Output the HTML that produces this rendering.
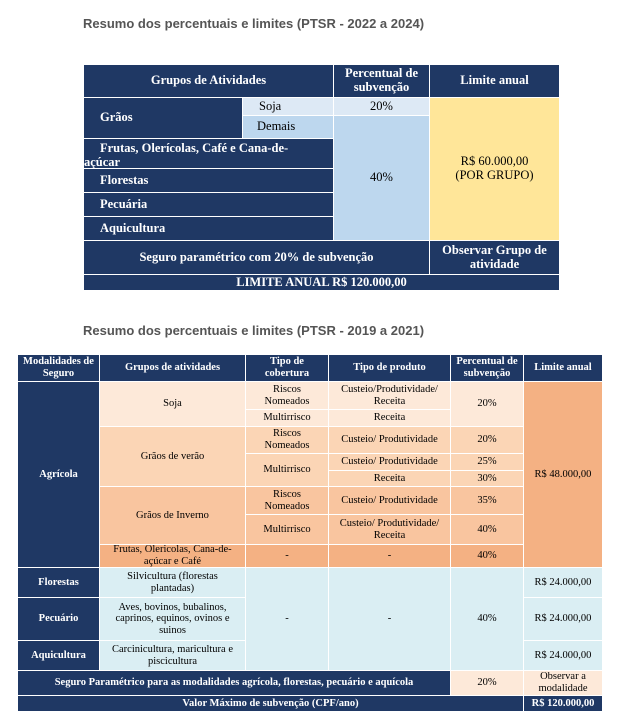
<!DOCTYPE html>
<html><head><meta charset="utf-8"><style>
body{margin:0;width:617px;height:718px;background:#fff;position:relative;overflow:hidden}
.t{position:absolute;font-family:"Liberation Sans",sans-serif;font-weight:bold;font-size:13px;color:#555}
.c{position:absolute;box-sizing:border-box;border:1px solid #fff;display:flex;align-items:center;justify-content:center;text-align:center;font-family:"Liberation Serif",serif;line-height:1.1;color:#000}
.n{background:#1f3864;color:#fff;font-weight:bold}
.a{font-size:12.5px}
.b{font-size:10.5px}
.l{justify-content:flex-start;padding-left:16px;text-align:left}
</style></head><body>
<div class="t" style="left:83px;top:16px">Resumo dos percentuais e limites (PTSR - 2022 a 2024)</div>

<div class="c n a" style="left:83px;top:64px;width:251px;height:34px">Grupos de Atividades</div>
<div class="c n a" style="left:333px;top:64px;width:97px;height:34px">Percentual de<br>subvenção</div>
<div class="c n a" style="left:429px;top:64px;width:131px;height:34px">Limite anual</div>
<div class="c n a l" style="left:83px;top:97px;width:160px;height:42px">Grãos</div>
<div class="c a" style="left:242px;top:97px;width:92px;height:19px;background:#dde9f5;justify-content:flex-start;padding-left:16px">Soja</div>
<div class="c a" style="left:242px;top:115px;width:92px;height:24px;background:#bdd7ee;justify-content:flex-start;padding-left:14px">Demais</div>
<div class="c a" style="left:333px;top:97px;width:97px;height:19px;background:#dde9f5">20%</div>
<div class="c a" style="left:333px;top:115px;width:97px;height:126px;background:#bdd7ee">40%</div>
<div class="c a" style="left:429px;top:97px;width:131px;height:144px;background:#ffe699">R$ 60.000,00<br>(POR GRUPO)</div>
<div class="c n a" style="left:83px;top:138px;width:251px;height:31px;display:block;text-align:left;padding:3px 0 0 0;line-height:1.1"><span style="padding-left:16px">Frutas, Olerícolas, Café e Cana-de-</span><br>açúcar</div>
<div class="c n a l" style="left:83px;top:168px;width:251px;height:25px">Florestas</div>
<div class="c n a l" style="left:83px;top:192px;width:251px;height:25px">Pecuária</div>
<div class="c n a l" style="left:83px;top:216px;width:251px;height:25px">Aquicultura</div>
<div class="c n a" style="left:83px;top:240px;width:347px;height:35px">Seguro paramétrico com 20% de subvenção</div>
<div class="c n a" style="left:429px;top:240px;width:131px;height:35px">Observar Grupo de<br>atividade</div>
<div class="c n a" style="left:83px;top:274px;width:477px;height:17px">LIMITE ANUAL R$ 120.000,00</div>

<div class="t" style="left:83px;top:323px">Resumo dos percentuais e limites (PTSR - 2019 a 2021)</div>

<div class="c n b" style="left:17px;top:354px;width:83px;height:28px">Modalidades de<br>Seguro</div>
<div class="c n b" style="left:99px;top:354px;width:147px;height:28px">Grupos de atividades</div>
<div class="c n b" style="left:245px;top:354px;width:84px;height:28px">Tipo de<br>cobertura</div>
<div class="c n b" style="left:328px;top:354px;width:123px;height:28px">Tipo de produto</div>
<div class="c n b" style="left:450px;top:354px;width:74px;height:28px">Percentual de<br>subvenção</div>
<div class="c n b" style="left:523px;top:354px;width:80px;height:28px">Limite anual</div>

<div class="c n b" style="left:17px;top:381px;width:83px;height:187px">Agrícola</div>
<div class="c b" style="left:99px;top:381px;width:147px;height:46px;background:#fde9d9">Soja</div>
<div class="c b" style="left:245px;top:381px;width:84px;height:29px;background:#fde9d9">Riscos<br>Nomeados</div>
<div class="c b" style="left:245px;top:409px;width:84px;height:18px;background:#fde9d9">Multirrisco</div>
<div class="c b" style="left:328px;top:381px;width:123px;height:29px;background:#fde9d9">Custeio/Produtividade/<br>Receita</div>
<div class="c b" style="left:328px;top:409px;width:123px;height:18px;background:#fde9d9">Receita</div>
<div class="c b" style="left:450px;top:381px;width:74px;height:46px;background:#fde9d9">20%</div>
<div class="c b" style="left:99px;top:426px;width:147px;height:61px;background:#fbd5b5">Grãos de verão</div>
<div class="c b" style="left:245px;top:426px;width:84px;height:28px;background:#fbd5b5">Riscos<br>Nomeados</div>
<div class="c b" style="left:245px;top:453px;width:84px;height:34px;background:#fbd5b5">Multirrisco</div>
<div class="c b" style="left:328px;top:426px;width:123px;height:28px;background:#fbd5b5">Custeio/ Produtividade</div>
<div class="c b" style="left:328px;top:453px;width:123px;height:18px;background:#fbd5b5">Custeio/ Produtividade</div>
<div class="c b" style="left:328px;top:470px;width:123px;height:17px;background:#fbd5b5">Receita</div>
<div class="c b" style="left:450px;top:426px;width:74px;height:28px;background:#fbd5b5">20%</div>
<div class="c b" style="left:450px;top:453px;width:74px;height:18px;background:#fbd5b5">25%</div>
<div class="c b" style="left:450px;top:470px;width:74px;height:17px;background:#fbd5b5">30%</div>
<div class="c b" style="left:99px;top:486px;width:147px;height:59px;background:#f9c59f">Grãos de Inverno</div>
<div class="c b" style="left:245px;top:486px;width:84px;height:29px;background:#f9c59f">Riscos<br>Nomeados</div>
<div class="c b" style="left:245px;top:514px;width:84px;height:31px;background:#f9c59f">Multirrisco</div>
<div class="c b" style="left:328px;top:486px;width:123px;height:29px;background:#f9c59f">Custeio/ Produtividade</div>
<div class="c b" style="left:328px;top:514px;width:123px;height:31px;background:#f9c59f">Custeio/ Produtividade/<br>Receita</div>
<div class="c b" style="left:450px;top:486px;width:74px;height:29px;background:#f9c59f">35%</div>
<div class="c b" style="left:450px;top:514px;width:74px;height:31px;background:#f9c59f">40%</div>
<div class="c b" style="left:99px;top:544px;width:147px;height:24px;background:#f4b183">Frutas, Olericolas, Cana-de-<br>açúcar e Café</div>
<div class="c b" style="left:245px;top:544px;width:84px;height:24px;background:#f4b183">-</div>
<div class="c b" style="left:328px;top:544px;width:123px;height:24px;background:#f4b183">-</div>
<div class="c b" style="left:450px;top:544px;width:74px;height:24px;background:#f4b183">40%</div>
<div class="c b" style="left:523px;top:381px;width:80px;height:187px;background:#f4b183">R$ 48.000,00</div>
<div class="c n b" style="left:17px;top:567px;width:83px;height:31px">Florestas</div>
<div class="c n b" style="left:17px;top:597px;width:83px;height:44px">Pecuário</div>
<div class="c n b" style="left:17px;top:640px;width:83px;height:31px">Aquicultura</div>
<div class="c b" style="left:99px;top:567px;width:147px;height:31px;background:#daeef3">Silvicultura (florestas<br>plantadas)</div>
<div class="c b" style="left:99px;top:597px;width:147px;height:44px;background:#daeef3">Aves, bovinos, bubalinos,<br>caprinos, equinos, ovinos e<br>suinos</div>
<div class="c b" style="left:99px;top:640px;width:147px;height:31px;background:#daeef3">Carcinicultura, maricultura e<br>piscicultura</div>
<div class="c b" style="left:245px;top:567px;width:84px;height:104px;background:#daeef3">-</div>
<div class="c b" style="left:328px;top:567px;width:123px;height:104px;background:#daeef3">-</div>
<div class="c b" style="left:450px;top:567px;width:74px;height:104px;background:#daeef3">40%</div>
<div class="c b" style="left:523px;top:567px;width:80px;height:31px;background:#daeef3">R$ 24.000,00</div>
<div class="c b" style="left:523px;top:597px;width:80px;height:44px;background:#daeef3">R$ 24.000,00</div>
<div class="c b" style="left:523px;top:640px;width:80px;height:31px;background:#daeef3">R$ 24.000,00</div>
<div class="c n b" style="left:17px;top:670px;width:434px;height:26px">Seguro Paramétrico para as modalidades agrícola, florestas, pecuário e aquícola</div>
<div class="c b" style="left:450px;top:670px;width:74px;height:26px;background:#fde9d9">20%</div>
<div class="c b" style="left:523px;top:670px;width:80px;height:26px;background:#fde9d9">Observar a<br>modalidade</div>
<div class="c n b" style="left:17px;top:695px;width:507px;height:17px">Valor Máximo de subvenção (CPF/ano)</div>
<div class="c n b" style="left:523px;top:695px;width:80px;height:17px">R$ 120.000,00</div>
</body></html>
